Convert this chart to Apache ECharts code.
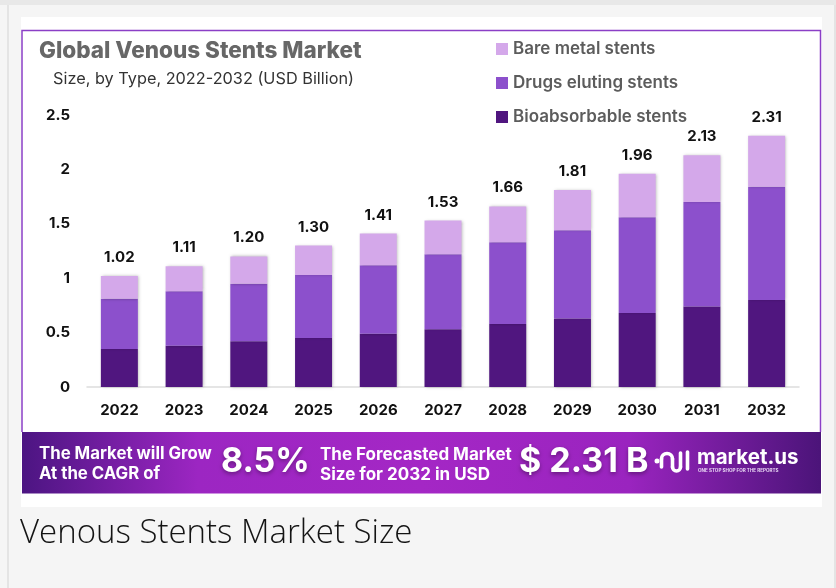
<!DOCTYPE html>
<html>
<head>
<meta charset="utf-8">
<script src="https://cdn.jsdelivr.net/npm/echarts@6/dist/echarts.min.js"></script>
<style>
  html, body { margin: 0; padding: 0; background: #f5f5f5; }
  #chart { width: 836px; height: 588px; }
</style>
</head>
<body>
<div id="chart"></div>
<script>
// data (USD billion)
const years = ["2022", "2023", "2024", "2025", "2026", "2027", "2028", "2029", "2030", "2031", "2032"];
const bioabsorbable = [0.35, 0.38, 0.42, 0.45, 0.49, 0.53, 0.58, 0.63, 0.68, 0.74, 0.80];
const drugsEluting = [0.46, 0.50, 0.53, 0.58, 0.63, 0.69, 0.75, 0.81, 0.88, 0.96, 1.04];
const bareMetal = [0.21, 0.23, 0.25, 0.27, 0.29, 0.31, 0.33, 0.37, 0.40, 0.43, 0.47];
const totals = [1.02, 1.11, 1.20, 1.30, 1.41, 1.53, 1.66, 1.81, 1.96, 2.13, 2.31];
const yTicks = [0, 0.5, 1, 1.5, 2, 2.5];

const FONT = "Inter, 'Noto Sans', sans-serif";

const chart = echarts.init(document.getElementById("chart"));

const barShadow = {
  shadowBlur: 3,
  shadowColor: "rgba(0,0,0,0.28)",
  shadowOffsetX: 1,
  shadowOffsetY: 0
};

const white = { stroke: "#fff", lineWidth: 3.6, lineCap: "round", fill: null };

chart.setOption({
  backgroundColor: "#f5f5f5",
  animation: false,
  textStyle: { fontFamily: FONT },
  grid: { left: 87, top: 115, width: 712, height: 272 },
  legend: {
    data: ["Bare metal stents", "Drugs eluting stents", "Bioabsorbable stents"],
    orient: "vertical",
    left: 496,
    top: 39,
    padding: 0,
    icon: "rect",
    itemWidth: 12,
    itemHeight: 12,
    itemGap: 14,
    textStyle: {
      fontFamily: FONT,
      fontSize: 17,
      fontWeight: 600,
      color: "#5c5c5c",
      lineHeight: 20
    }
  },
  xAxis: {
    type: "category",
    data: years,
    axisLine: { lineStyle: { color: "#dddddd", width: 1.5 } },
    axisTick: { show: false },
    axisLabel: { color: "#111", fontSize: 15, fontWeight: "bold", margin: 16, fontFamily: FONT }
  },
  yAxis: {
    type: "value",
    min: 0,
    max: 2.5,
    interval: 0.5,
    splitLine: { show: false },
    axisLine: { show: false },
    axisTick: { show: false },
    axisLabel: {
      color: "#111",
      fontSize: 15,
      fontWeight: "bold",
      margin: 17,
      fontFamily: FONT,
      formatter: v => (yTicks.indexOf(v) >= 0 ? String(v) : "")
    }
  },
  series: [
    {
      name: "Bioabsorbable stents",
      type: "bar",
      stack: "total",
      barWidth: 37,
      data: bioabsorbable,
      itemStyle: Object.assign({ color: "#50167f" }, barShadow)
    },
    {
      name: "Drugs eluting stents",
      type: "bar",
      stack: "total",
      data: drugsEluting,
      itemStyle: Object.assign({ color: "#8c50cc" }, barShadow)
    },
    {
      name: "Bare metal stents",
      type: "bar",
      stack: "total",
      data: bareMetal,
      itemStyle: Object.assign({ color: "#d4a8ea" }, barShadow),
      label: {
        show: true,
        position: "top",
        distance: 11,
        color: "#111",
        fontSize: 15,
        fontWeight: "bold",
        fontFamily: FONT,
        formatter: p => totals[p.dataIndex].toFixed(2)
      }
    }
  ],
  graphic: [
    // page frame
    { type: "rect", z: -10, shape: { x: 0, y: 0, width: 836, height: 5 }, style: { fill: "#e8e8e8" } },
    { type: "rect", z: -10, shape: { x: 7, y: 5, width: 2, height: 583 }, style: { fill: "#e4e4e4" } },
    { type: "rect", z: -10, shape: { x: 834, y: 5, width: 2, height: 583 }, style: { fill: "#e4e4e4" } },
    // white card
    { type: "rect", z: -9, shape: { x: 21, y: 17, width: 801, height: 490 }, style: { fill: "#ffffff" } },
    // purple chart frame
    {
      type: "polyline", z: -8,
      shape: { points: [[22, 432], [22, 30.5], [820.5, 30.5], [820.5, 432]] },
      style: { stroke: "#8b3fc6", lineWidth: 1.5, fill: null }
    },
    // title block
    {
      type: "text", x: 39, y: 40,
      style: { text: "Global Venous Stents Market", fill: "#676767", font: "800 22.5px " + FONT }
    },
    {
      type: "text", x: 53, y: 71,
      style: { text: "Size, by Type, 2022-2032 (USD Billion)", fill: "#333333", font: "16.3px " + FONT }
    },
    // banner
    {
      type: "rect", z: -7,
      shape: { x: 22, y: 432, width: 799, height: 61.5 },
      style: {
        fill: new echarts.graphic.LinearGradient(0, 0, 1, 0, [
          { offset: 0, color: "#4c1582" },
          { offset: 0.22, color: "#9c26c2" },
          { offset: 0.5, color: "#a427c5" },
          { offset: 0.76, color: "#9a24bf" },
          { offset: 1, color: "#4b1479" }
        ])
      }
    },
    {
      type: "text", x: 39, y: 444,
      style: { text: "The Market will Grow\nAt the CAGR of", fill: "#fff", font: "bold 16.8px " + FONT, lineHeight: 20 }
    },
    {
      type: "text", x: 221, y: 445,
      style: {
        text: "8.5%", fill: "#fff", font: "bold 34px " + FONT,
        textShadowColor: "rgba(0,0,0,0.35)", textShadowBlur: 4, textShadowOffsetY: 2
      }
    },
    {
      type: "text", x: 320, y: 445,
      style: { text: "The Forecasted Market\nSize for 2032 in USD", fill: "#fff", font: "bold 17px " + FONT, lineHeight: 20 }
    },
    {
      type: "text", x: 519, y: 445,
      style: {
        text: "$ 2.31 B", fill: "#fff", font: "bold 34px " + FONT,
        textShadowColor: "rgba(0,0,0,0.35)", textShadowBlur: 4, textShadowOffsetY: 2
      }
    },
    // market.us logo mark
    { type: "circle", shape: { cx: 657, cy: 461, r: 2.5 }, style: { fill: "#fff" } },
    { type: "arc", shape: { cx: 667, cy: 459, r: 5.5, startAngle: Math.PI, endAngle: 2 * Math.PI, clockwise: true }, style: white },
    { type: "line", shape: { x1: 661.5, y1: 459, x2: 661.5, y2: 467 }, style: white },
    { type: "line", shape: { x1: 672.5, y1: 459, x2: 672.5, y2: 467 }, style: white },
    { type: "arc", shape: { cx: 676.5, cy: 467, r: 4, startAngle: 0, endAngle: Math.PI, clockwise: true }, style: white },
    { type: "line", shape: { x1: 680.5, y1: 467, x2: 680.5, y2: 453 }, style: white },
    { type: "line", shape: { x1: 687.5, y1: 452, x2: 687.5, y2: 469 }, style: white },
    {
      type: "text", x: 697, y: 447,
      style: { text: "market.us", fill: "#fff", font: "bold 20.5px " + FONT }
    },
    {
      type: "text", x: 698, y: 468.5,
      style: { text: "ONE STOP SHOP FOR THE REPORTS", fill: "#e8d6f4", font: "bold 4.6px " + FONT }
    },
    // caption under the card
    {
      type: "text", x: 20, y: 517,
      style: { text: "Venous Stents Market Size", fill: "#141414", font: "300 33px 'Open Sans', sans-serif" }
    }
  ]
});
</script>
</body>
</html>
